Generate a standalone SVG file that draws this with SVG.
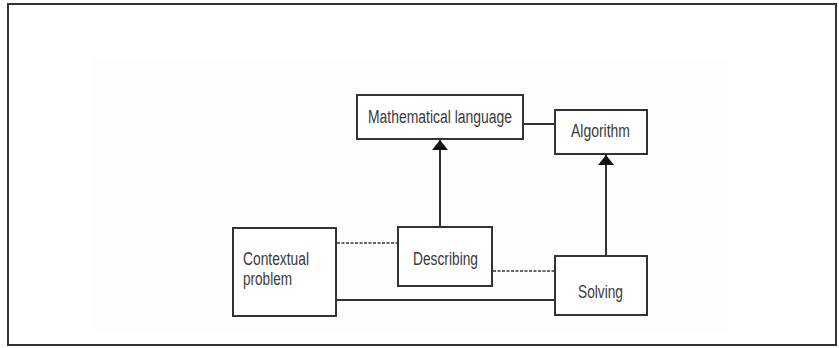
<svg xmlns="http://www.w3.org/2000/svg" width="839" height="348" viewBox="0 0 839 348">
<style>
.box{fill:#fff;stroke:#333;stroke-width:2}
.lbl{font-family:"Liberation Sans",Arial,sans-serif;font-size:18px;fill:#3a3a3a}
.solid{stroke:#333;stroke-width:2;fill:none}
.dash{stroke:#666;stroke-width:2;fill:none;stroke-dasharray:3 1.5}
</style>
<defs>
<marker id="arr" viewBox="0 0 10 16" refX="10" refY="8" markerWidth="10" markerHeight="16" markerUnits="userSpaceOnUse" orient="auto">
<path d="M0,0 L10,8 L0,16 Z" fill="#111"/>
</marker>
</defs>
<rect x="0" y="0" width="839" height="348" fill="#fff"/>
<rect x="8" y="4" width="828" height="341" fill="none" stroke="#333" stroke-width="2"/>
<rect x="94" y="58" width="634" height="272" fill="#fdfdfd"/>
<g id="connectors">
<line class="solid" x1="523" y1="124" x2="554" y2="124"/>
<line class="solid" x1="440" y1="227" x2="440" y2="140" marker-end="url(#arr)"/>
<line class="solid" x1="606" y1="256" x2="606" y2="155" marker-end="url(#arr)"/>
<line class="dash" x1="337" y1="243" x2="398" y2="243"/>
<line class="dash" x1="493" y1="271" x2="554" y2="271"/>
<line class="solid" x1="337" y1="300" x2="554" y2="300"/>
</g>
<g id="math">
<rect class="box" x="357" y="95" width="166" height="44"/>
<text class="lbl" x="368" y="123" textLength="144" lengthAdjust="spacingAndGlyphs">Mathematical language</text>
</g>
<g id="algorithm">
<rect class="box" x="555" y="110" width="92" height="44"/>
<text class="lbl" x="571" y="137" textLength="59" lengthAdjust="spacingAndGlyphs">Algorithm</text>
</g>
<g id="contextual">
<rect class="box" x="233" y="228" width="103" height="88"/>
<text class="lbl" x="243" y="265" textLength="66" lengthAdjust="spacingAndGlyphs">Contextual</text>
<text class="lbl" x="243" y="285" textLength="49" lengthAdjust="spacingAndGlyphs">problem</text>
</g>
<g id="describing">
<rect class="box" x="398" y="227" width="94" height="59"/>
<text class="lbl" x="413" y="265" textLength="65" lengthAdjust="spacingAndGlyphs">Describing</text>
</g>
<g id="solving">
<rect class="box" x="555" y="256" width="92" height="59"/>
<text class="lbl" x="578" y="298" textLength="45" lengthAdjust="spacingAndGlyphs">Solving</text>
</g>
</svg>
